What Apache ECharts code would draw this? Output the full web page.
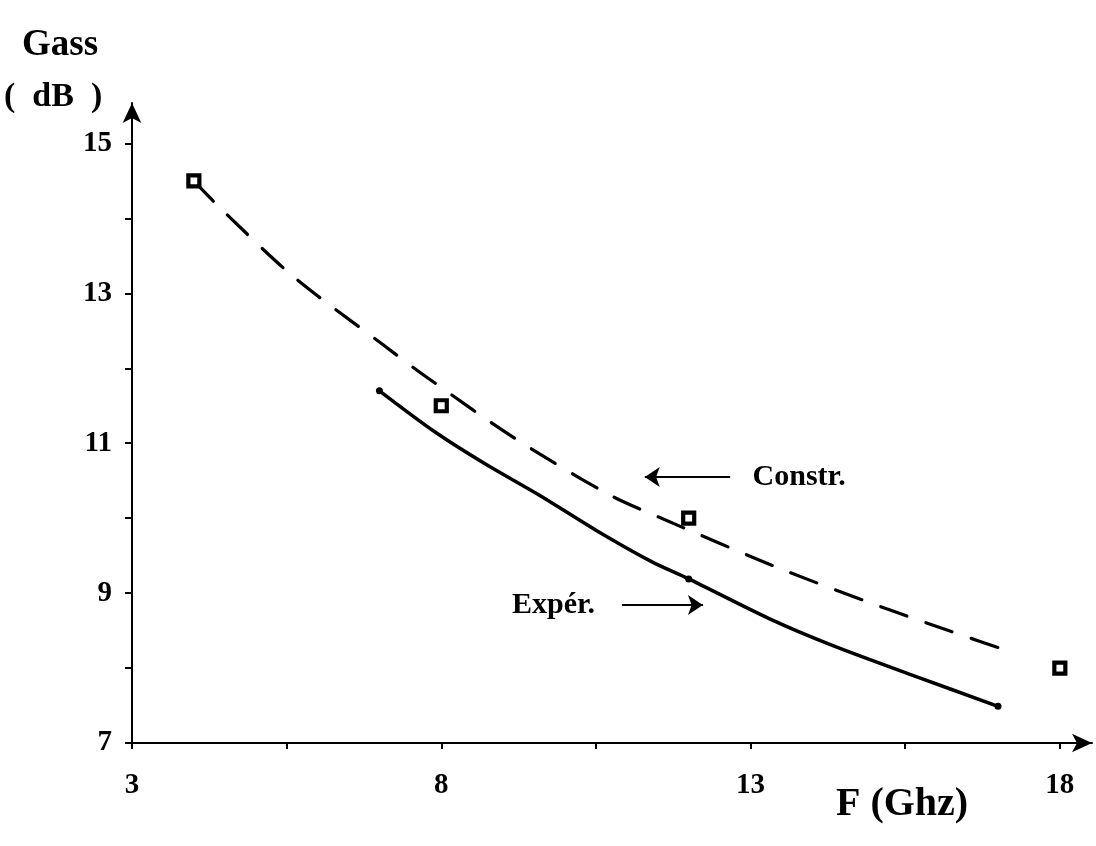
<!DOCTYPE html>
<html>
<head>
<meta charset="utf-8">
<script src="https://cdn.jsdelivr.net/npm/echarts@6/dist/echarts.min.js"></script>
<style>
  html, body { margin: 0; padding: 0; background: #fff; }
  #chart { width: 1096px; height: 846px; }
</style>
</head>
<body>
<div id="chart"></div>
<script>
// Axis ticks and labels: frequency (GHz) and available gain (dB)
const xTicks = [3, 5.5, 8, 10.5, 13, 15.5, 18];
const xLabels = [3, 8, 13, 18];
const yTicks = [7, 8, 9, 10, 11, 12, 13, 14, 15];
const yLabels = [7, 9, 11, 13, 15];

// Manufacturer data points (squares)
const constrPoints = [[4.0, 14.5], [8.0, 11.5], [12.0, 10.0], [18.0, 8.0]];

// Manufacturer trend curve (dashed)
const constrCurve = [
  [4.0, 14.5], [4.4, 14.16], [5.6, 13.23], [7.0, 12.35], [7.8, 11.86],
  [9.2, 11.06], [10.7, 10.32], [11.5, 10.02], [13.5, 9.32], [15.2, 8.79],
  [16.2, 8.5], [17.3, 8.19]
];

// Measured gain curve (solid)
const experCurve = [
  [7.0, 11.7], [7.9, 11.15], [8.7, 10.73], [9.6, 10.3], [10.5, 9.84],
  [11.4, 9.42], [12.0, 9.19], [13.3, 8.66], [14.3, 8.31], [15.7, 7.88],
  [17.0, 7.49]
];
const experPoints = [[7.0, 11.7], [12.0, 9.19], [17.0, 7.49]];

// Callout arrows (start -> head) and their captions
const constrArrow = [[12.67, 10.55], [11.29, 10.55]];
const experArrow = [[10.92, 8.84], [12.23, 8.84]];
const constrNote = { name: 'Constr.', value: [13.0, 10.55] };
const experNote = { name: 'Expér.', value: [10.55, 8.84] };

const serif = '"Liberation Serif", "DejaVu Serif", serif';

const chart = echarts.init(document.getElementById('chart'));

const axisLineStyle = {
  show: true,
  symbol: ['none', 'arrow'],
  symbolSize: [14, 20],
  lineStyle: { color: '#000', width: 2 }
};

chart.setOption({
  animation: false,
  backgroundColor: '#ffffff',
  grid: { left: 132, right: 4, top: 103, bottom: 103 },
  xAxis: {
    type: 'value',
    min: 3,
    max: 18.52,
    splitLine: { show: false },
    axisLine: axisLineStyle,
    axisTick: {
      show: true,
      customValues: xTicks,
      length: 6,
      lineStyle: { color: '#000', width: 2 }
    },
    axisLabel: {
      customValues: xLabels,
      color: '#000',
      fontFamily: serif,
      fontWeight: 'bold',
      fontSize: 29,
      margin: 28
    }
  },
  yAxis: {
    type: 'value',
    min: 7,
    max: 15.54,
    splitLine: { show: false },
    axisLine: axisLineStyle,
    axisTick: {
      show: true,
      customValues: yTicks,
      length: 7,
      lineStyle: { color: '#000', width: 2 }
    },
    axisLabel: {
      customValues: yLabels,
      color: '#000',
      fontFamily: serif,
      fontWeight: 'bold',
      fontSize: 29,
      margin: 20
    }
  },
  series: [
    {
      name: 'Constr. curve',
      type: 'line',
      data: constrCurve,
      smooth: 0.3,
      showSymbol: false,
      silent: true,
      lineStyle: { color: '#000', width: 3.2, type: [28, 20], cap: 'round' },
      z: 2
    },
    {
      name: 'Constr.',
      type: 'scatter',
      data: constrPoints,
      symbol: 'rect',
      symbolSize: 11,
      silent: true,
      itemStyle: { color: '#fff', borderColor: '#000', borderWidth: 4.2, opacity: 1 },
      z: 5
    },
    {
      name: 'Expér. curve',
      type: 'line',
      data: experCurve,
      smooth: 0.3,
      showSymbol: false,
      silent: true,
      lineStyle: { color: '#000', width: 3.5, cap: 'round' },
      z: 3
    },
    {
      name: 'Expér.',
      type: 'scatter',
      data: experPoints,
      symbol: 'circle',
      symbolSize: 7,
      silent: true,
      itemStyle: { color: '#000', opacity: 1 },
      z: 4
    },
    {
      name: 'callouts',
      type: 'scatter',
      data: [
        Object.assign({}, constrNote, { label: { position: 'right', distance: 2 } }),
        Object.assign({}, experNote, { label: { position: 'left', distance: 4 } })
      ],
      symbolSize: 0,
      silent: true,
      itemStyle: { opacity: 1 },
      label: {
        show: true,
        formatter: '{b}',
        color: '#000',
        opacity: 1,
        fontFamily: serif,
        fontWeight: 'bold',
        fontSize: 30
      },
      markLine: {
        silent: true,
        symbol: ['none', 'arrow'],
        symbolSize: 15,
        label: { show: false },
        lineStyle: { color: '#000', width: 2, type: 'solid', opacity: 1 },
        emphasis: { disabled: true },
        data: [
          [{ coord: constrArrow[0] }, { coord: constrArrow[1] }],
          [{ coord: experArrow[0] }, { coord: experArrow[1] }]
        ]
      },
      z: 6
    }
  ],
  graphic: [
    {
      type: 'text',
      left: 22, top: 27,
      style: { text: 'Gass', fill: '#000', font: 'bold 37px ' + serif }
    },
    {
      type: 'text',
      left: 4, top: 80,
      style: { text: '(  dB  )', fill: '#000', font: 'bold 34px ' + serif }
    },
    {
      type: 'text',
      left: 836, top: 785,
      style: { text: 'F (Ghz)', fill: '#000', font: 'bold 40px ' + serif }
    }
  ]
});
</script>
</body>
</html>
